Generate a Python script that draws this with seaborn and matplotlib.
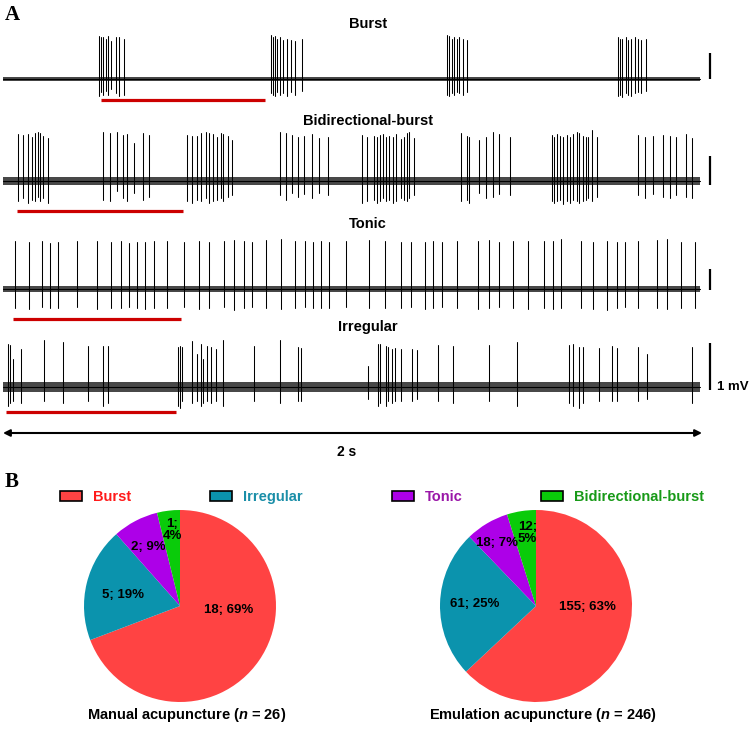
import matplotlib
matplotlib.use("Agg")
from matplotlib import pyplot as plt
from matplotlib.patches import Patch
import pandas as pd
import seaborn as sns

# ---- panel A: spike times (ms) and amplitudes (units of each trace's scale bar) ----
burst_times = [275, 280, 287, 295, 301, 309, 322, 332, 347,
               766, 772, 778, 785, 793, 802, 812, 823, 836, 855,
               1271, 1276, 1284, 1290, 1298, 1306, 1317, 1328,
               1759, 1765, 1772, 1782, 1789, 1797, 1808, 1818, 1825, 1839]
burst_up = [1.65, 1.6, 1.6, 1.55, 1.65, 1.45, 1.6, 1.6, 1.55,
            1.7, 1.6, 1.65, 1.55, 1.6, 1.5, 1.55, 1.5, 1.45, 1.55,
            1.7, 1.65, 1.55, 1.6, 1.55, 1.6, 1.55, 1.5,
            1.6, 1.55, 1.55, 1.6, 1.5, 1.55, 1.6, 1.55, 1.5, 1.55]
burst_down = [0.65, 0.5, 0.6, 0.45, 0.6, 0.4, 0.55, 0.65, 0.6,
              0.55, 0.6, 0.65, 0.5, 0.6, 0.55, 0.65, 0.5, 0.6, 0.45,
              0.6, 0.65, 0.55, 0.6, 0.5, 0.55, 0.6, 0.5,
              0.65, 0.6, 0.7, 0.55, 0.6, 0.65, 0.55, 0.5, 0.55, 0.45]

bidir_times = [44, 58, 71, 84, 92, 99, 106, 115, 130,
               285, 306, 325, 343, 354, 376, 400, 419,
               526, 540, 554, 567, 580, 590, 602, 611, 623, 630, 645, 654,
               793, 810, 826, 843, 861, 883, 905, 929,
               1026, 1041, 1062, 1069, 1079, 1086, 1095, 1105, 1115, 1125, 1139, 1148, 1157, 1163, 1176,
               1310, 1329, 1334, 1362, 1382, 1403, 1420, 1451,
               1570, 1577, 1586, 1594, 1603, 1613, 1622, 1632, 1642, 1649, 1659, 1668, 1675, 1684, 1699,
               1816, 1837, 1861, 1888, 1908, 1926, 1954, 1970]
bidir_up = [1.62, 1.59, 1.62, 1.52, 1.66, 1.69, 1.66, 1.55, 1.48,
            1.7, 1.66, 1.7, 1.6, 1.62, 1.3, 1.66, 1.6,
            1.6, 1.55, 1.55, 1.64, 1.7, 1.67, 1.62, 1.53, 1.67, 1.62, 1.55, 1.41,
            1.7, 1.64, 1.59, 1.53, 1.55, 1.62, 1.47, 1.53,
            1.59, 1.53, 1.55, 1.53, 1.59, 1.62, 1.51, 1.55, 1.51, 1.62, 1.44, 1.53, 1.67, 1.7, 1.47,
            1.64, 1.55, 1.53, 1.41, 1.53, 1.7, 1.62, 1.53,
            1.59, 1.53, 1.62, 1.55, 1.53, 1.59, 1.53, 1.62, 1.7, 1.67, 1.55, 1.53, 1.51, 1.76, 1.53,
            1.59, 1.53, 1.55, 1.59, 1.55, 1.51, 1.62, 1.47]
bidir_down = [0.7, 0.6, 0.75, 0.65, 0.7, 0.55, 0.7, 0.6, 0.75,
              0.65, 0.7, 0.35, 0.6, 0.7, 0.4, 0.65, 0.55,
              0.7, 0.75, 0.65, 0.7, 0.6, 0.75, 0.7, 0.65, 0.6, 0.7, 0.55, 0.5,
              0.5, 0.65, 0.4, 0.55, 0.45, 0.6, 0.4, 0.5,
              0.75, 0.7, 0.65, 0.75, 0.7, 0.6, 0.7, 0.65, 0.75, 0.7, 0.6, 0.65, 0.7, 0.6, 0.5,
              0.7, 0.65, 0.75, 0.4, 0.6, 0.55, 0.45, 0.5,
              0.7, 0.75, 0.7, 0.65, 0.8, 0.7, 0.75, 0.65, 0.7, 0.75, 0.7, 0.65, 0.6, 0.7, 0.55,
              0.5, 0.6, 0.45, 0.55, 0.6, 0.5, 0.55, 0.6]

tonic_times = [34, 75, 112, 135, 158, 213, 268, 308, 337, 360, 383, 406, 432, 470, 518,
               561, 589, 632, 662, 690, 712, 753, 795, 836, 863, 888, 910, 933, 981, 1046,
               1093, 1139, 1167, 1207, 1231, 1255, 1298, 1360, 1391, 1420, 1460, 1503, 1548,
               1573, 1596, 1653, 1687, 1727, 1758, 1781, 1816, 1870, 1899, 1939, 1980]
tonic_up = [2.3, 2.25, 2.3, 2.2, 2.25, 2.3, 2.3, 2.25, 2.3, 2.2, 2.25, 2.25, 2.3, 2.3, 2.25,
            2.3, 2.25, 2.3, 2.35, 2.3, 2.25, 2.35, 2.4, 2.3, 2.3, 2.25, 2.3, 2.25, 2.3, 2.35,
            2.3, 2.25, 2.25, 2.25, 2.3, 2.25, 2.3, 2.3, 2.35, 2.25, 2.3, 2.3, 2.3,
            2.3, 2.4, 2.3, 2.25, 2.3, 2.25, 2.25, 2.3, 2.35, 2.4, 2.25, 2.25]
tonic_down = [0.9, 0.95, 0.85, 0.9, 0.9, 0.85, 0.95, 0.9, 0.9, 0.85, 0.9, 0.95, 0.9, 0.9, 0.85,
              0.95, 0.9, 0.85, 1.0, 0.9, 0.85, 0.9, 0.95, 0.9, 0.85, 0.9, 0.9, 0.9, 0.85, 0.9,
              0.9, 0.9, 0.85, 0.95, 0.9, 0.85, 0.9, 0.95, 0.9, 0.85, 0.9, 0.95, 0.9,
              0.95, 0.9, 0.9, 0.95, 1.0, 0.9, 0.85, 0.9, 0.9, 0.95, 0.9, 0.9]

irreg_times = [15, 20, 28, 52, 118, 173, 242, 287, 300, 502, 506, 511, 540, 554, 566, 573,
               585, 594, 609, 630, 719, 793, 845, 853, 1045, 1074, 1079, 1096, 1102, 1112,
               1122, 1138, 1171, 1184, 1244, 1288, 1391, 1470, 1620, 1630, 1649, 1660, 1706,
               1743, 1756, 1816, 1842, 1971]
irreg_up = [0.92, 0.9, 0.6, 0.8, 1.0, 0.95, 0.88, 0.88, 0.88, 0.85, 0.88, 0.85, 0.98, 0.7,
            0.92, 0.6, 0.88, 0.86, 0.8, 1.0, 0.88, 1.0, 0.85, 0.82, 0.45, 0.92, 0.92, 0.88,
            0.85, 0.8, 0.82, 0.8, 0.8, 0.78, 0.9, 0.88, 0.9, 0.95, 0.9, 0.92, 0.85, 0.85,
            0.82, 0.88, 0.82, 0.85, 0.7, 0.85]
irreg_down = [0.4, 0.35, 0.3, 0.35, 0.3, 0.35, 0.3, 0.4, 0.35, 0.4, 0.45, 0.3, 0.35, 0.3,
              0.4, 0.35, 0.3, 0.35, 0.3, 0.4, 0.3, 0.35, 0.3, 0.3, 0.25, 0.4, 0.35, 0.4,
              0.3, 0.35, 0.3, 0.3, 0.3, 0.25, 0.3, 0.35, 0.3, 0.4, 0.35, 0.4, 0.45, 0.35,
              0.3, 0.3, 0.3, 0.3, 0.25, 0.35]

# one firing cycle marked under each trace (ms)
cycle_start = [280, 39, 30, 9]
cycle_end = [750, 516, 508, 494]
noise_level = [0.09, 0.14, 0.14, 0.10]
trace_names = ["Burst", "Bidirectional-burst", "Tonic", "Irregular"]

# ---- panel B: pattern counts ----
pattern_names = ["Burst", "Irregular", "Tonic", "Bidirectional-burst"]
manual_counts = [18, 5, 2, 1]
manual_pct = [69, 19, 9, 4]
emulation_counts = [155, 61, 18, 12]
emulation_pct = [63, 25, 7, 5]

pie_colors = ["#ff4343", "#0b93ad", "#ad00e8", "#0acb0a"]
legend_text_colors = ["#ff1a1a", "#1a8ea8", "#9a17a8", "#189a18"]

sns.set_theme(style="white")
plt.rcParams["font.family"] = ["Liberation Sans", "DejaVu Sans"]
plt.rcParams["text.color"] = "black"
plt.rcParams["mathtext.fontset"] = "custom"
plt.rcParams["mathtext.it"] = "Liberation Sans:italic:bold"
plt.rcParams["mathtext.rm"] = "Liberation Sans:bold"

W, H = 750, 731
fig = plt.figure(figsize=(W / 100, H / 100), dpi=100)

PX_PER_MS = 0.3495
X0 = 3


def ms(px):
    return (px - X0) / PX_PER_MS


def spike_frame(times, up, down):
    rows = []
    for i, (t, u, d) in enumerate(zip(times, up, down)):
        rows.append({"t": t, "v": -d, "spike": i})
        rows.append({"t": t, "v": u, "spike": i})
    return pd.DataFrame(rows)


traces = [(burst_times, burst_up, burst_down),
          (bidir_times, bidir_up, bidir_down),
          (tonic_times, tonic_up, tonic_down),
          (irreg_times, irreg_up, irreg_down)]
baseline_px = [79, 181, 289, 387]
unit_px = [26, 29, 21, 47]
bar_bottom = [0.0, -0.14, -0.05, -0.06]
cycle_px = [100, 211, 319, 412]

for k, (times, up, down) in enumerate(traces):
    yb, u = baseline_px[k], unit_px[k]
    ax = fig.add_axes([0, 0, 1, 1])
    ax.patch.set_alpha(0)
    ax.set_xlim(ms(0), ms(W))
    ax.set_ylim((yb - H) / u, yb / u)
    ax.fill_between([0, 1995], -noise_level[k], noise_level[k], color="#484848", lw=0)
    ax.plot([0, 1995], [0, 0], color="black", lw=0.8)
    df = spike_frame(times, up, down)
    sns.lineplot(data=df, x="t", y="v", units="spike", estimator=None, sort=False,
                 color="black", lw=0.75, ax=ax, legend=False)
    # scale bar
    ax.plot([ms(710), ms(710)], [bar_bottom[k], bar_bottom[k] + 1], color="black",
            lw=1.6, solid_capstyle="butt")
    # red cycle bar
    ax.plot([cycle_start[k], cycle_end[k]], [(yb - cycle_px[k]) / u] * 2,
            color="#cc0000", lw=2.3, solid_capstyle="butt")
    ax.axis("off")

# text layer in pixel coordinates
tx = fig.add_axes([0, 0, 1, 1])
tx.patch.set_alpha(0)
tx.set_xlim(0, W)
tx.set_ylim(H, 0)
tx.axis("off")
title_y = [24, 121, 224, 327]
for name, y in zip(trace_names, title_y):
    tx.text(368, y, name, ha="center", va="center", fontsize=10.5, fontweight="bold")
tx.text(717, 387, "1 mV", ha="left", va="center", fontsize=9.5, fontweight="bold")
tx.annotate("", xy=(3, 433), xytext=(702, 433),
            arrowprops=dict(arrowstyle="<|-|>", color="black", lw=1.5,
                            mutation_scale=10, shrinkA=0, shrinkB=0))
tx.text(347, 452, "2 s", ha="center", va="center", fontsize=10, fontweight="bold")
tx.text(5, 15, "A", ha="left", va="center", fontsize=15, fontweight="bold",
        family="Liberation Serif")
tx.text(5, 482, "B", ha="left", va="center", fontsize=15, fontweight="bold",
        family="Liberation Serif")

# ---- pies ----
R = 96
pies = [(180, manual_counts, manual_pct, "Manual acupuncture ($n$ = 26)",
         [(0.51, -0.04), (-0.59, 0.11), (-0.33, 0.61), (-0.08, 0.79)]),
        (536, emulation_counts, emulation_pct, "Emulation acupuncture ($n$ = 246)",
         [(0.54, -0.01), (-0.64, 0.02), (-0.41, 0.66), (-0.09, 0.76)])]
for cx, counts, pct, title, label_pos in pies:
    pax = fig.add_axes([(cx - R) / W, (H - 606 - R) / H, 2 * R / W, 2 * R / H])
    pax.pie(counts, colors=pie_colors, startangle=90, counterclock=False,
            wedgeprops=dict(linewidth=0))
    pax.set_xlim(-1, 1)
    pax.set_ylim(-1, 1)
    for i, (c, p) in enumerate(zip(counts, pct)):
        label = f"{c};\n{p}%" if i == len(counts) - 1 else f"{c}; {p}%"
        pax.text(label_pos[i][0], label_pos[i][1], label, ha="center", va="center",
                 fontsize=9.5, fontweight="bold", linespacing=1.0, color="black")
    tx.text(cx + 7, 715, title, ha="center", va="center", fontsize=10.5, fontweight="bold")

handles = [Patch(facecolor=c, edgecolor="black", lw=1.2) for c in pie_colors]
for idx, x_left, y in [((0, 1), 60, 497), ((2, 3), 392, 497)]:
    leg = fig.legend([handles[i] for i in idx], [pattern_names[i] for i in idx],
                     loc="center left", bbox_to_anchor=(x_left / W, 1 - y / H),
                     ncol=2, frameon=False, handlelength=1.5, handleheight=0.68,
                     handletextpad=0.75, columnspacing=5.4, borderpad=0,
                     borderaxespad=0, prop=dict(size=10.5, weight="bold"))
    for t, i in zip(leg.get_texts(), idx):
        t.set_color(legend_text_colors[i])

fig.savefig("out.png", dpi=100)
